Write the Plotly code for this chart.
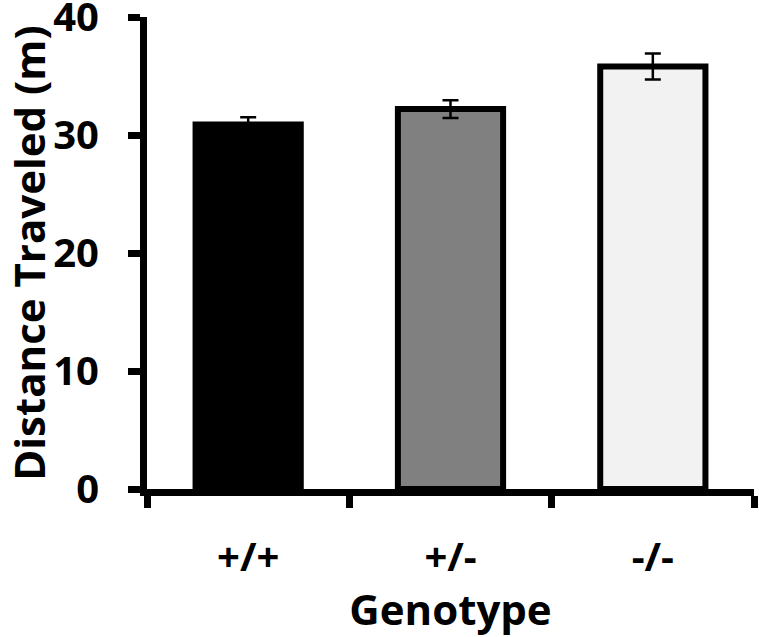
import plotly.graph_objects as go

categories = ["+/+", "+/-", "-/-"]
values = [30.9, 32.2, 35.8]
errors = [0.6, 0.75, 1.1]
colors = ["#000000", "#808080", "#f2f2f2"]
y_ticks = [0, 10, 20, 30, 40]

FONT = "Open Sans"
FS_TITLE = 42
FS_TICK = 40

fig = go.Figure()
fig.add_trace(go.Bar(
    x=categories,
    y=values,
    width=0.52,
    marker=dict(color=colors, line=dict(color="#000000", width=6)),
    error_y=dict(type="data", array=errors, visible=True, color="#000000",
                 thickness=2.5, width=8),
    showlegend=False,
))

fig.update_layout(
    width=759, height=637,
    margin=dict(l=147, r=5, t=17, b=148),
    paper_bgcolor="white", plot_bgcolor="white",
    font=dict(family=FONT, color="#000000", size=FS_TICK, weight="bold"),
)

fig.update_xaxes(
    type="category",
    range=[-0.5, 2.5],
    automargin=False,
    showline=True, linecolor="#000000", linewidth=7,
    ticks="outside", tickson="boundaries", ticklen=12, tickwidth=7, tickcolor="#000000",
    tickfont=dict(family=FONT, size=FS_TICK, color="#000000", weight="bold"),
    ticklabelstandoff=27,
    showgrid=False, zeroline=False,
    title=dict(text="Genotype", font=dict(family=FONT, size=FS_TITLE, color="#000000", weight="bold"),
               standoff=2),
)

fig.update_yaxes(
    range=[0, 40],
    tickvals=y_ticks,
    automargin="left",
    ticklabeloverflow="allow",
    showline=True, linecolor="#000000", linewidth=7,
    ticks="outside", ticklen=12, tickwidth=7, tickcolor="#000000",
    tickfont=dict(family=FONT, size=FS_TICK, color="#000000", weight="bold"),
    ticklabelstandoff=21,
    showgrid=False, zeroline=False,
    title=dict(text="Distance Traveled (m)", font=dict(family=FONT, size=FS_TITLE, color="#000000", weight="bold"),
               standoff=6),
)

fig.write_html("out.html", config={"displayModeBar": False},
               post_script="document.body.style.margin='0';")
